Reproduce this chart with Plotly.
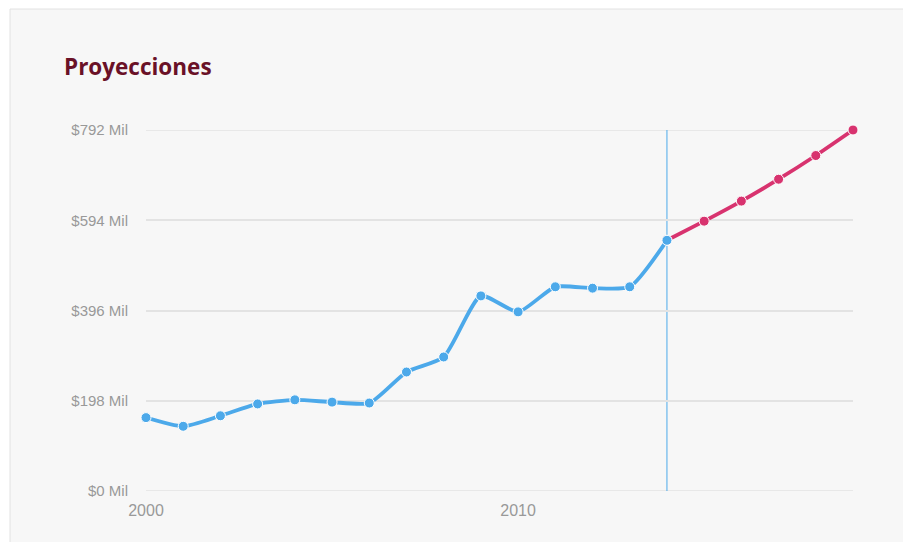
import plotly.graph_objects as go

# Historical values (millions) and projected values
years_hist = [2000, 2001, 2002, 2003, 2004, 2005, 2006, 2007, 2008, 2009,
              2010, 2011, 2012, 2013, 2014]
values_hist = [161, 142, 165, 191, 200, 195, 193, 261, 294, 428,
               393, 448, 445, 448, 550]

years_proj = [2014, 2015, 2016, 2017, 2018, 2019]
values_proj = [550, 592, 636, 684, 736, 792]

y_ticks = [0, 198, 396, 594, 792]
y_tick_labels = ["$0 Mil", "$198 Mil", "$396 Mil", "$594 Mil", "$792 Mil"]
x_ticks = [2000, 2010]
x_tick_labels = ["2000", "2010"]
split_year = 2014

W, H = 903, 542
ML, MR, MT, MB = 146, 50, 130, 51
PW, PH = W - ML - MR, H - MT - MB


def px_x(p):
    return (p - ML) / PW


def px_y(p):
    return (H - MB - p) / PH


BLUE = "#4ca9ea"
PINK = "#d8336f"
GRID = "#e3e3e3"

fig = go.Figure()

fig.add_trace(go.Scatter(
    x=years_proj, y=values_proj, mode="lines+markers",
    line=dict(color=PINK, width=3.8, shape="spline", smoothing=0.5),
    marker=dict(size=10, color=PINK, line=dict(color="white", width=1)),
    cliponaxis=False, hoverinfo="x+y", showlegend=False,
))
fig.add_trace(go.Scatter(
    x=years_hist, y=values_hist, mode="lines+markers",
    line=dict(color=BLUE, width=3.8, shape="spline", smoothing=0.6),
    marker=dict(size=10, color=BLUE, line=dict(color="white", width=1)),
    cliponaxis=False, hoverinfo="x+y", showlegend=False,
))

# Card background
fig.add_shape(type="rect", xref="paper", yref="paper", layer="below",
              x0=px_x(10), x1=px_x(W + 20), y0=px_y(H + 20), y1=px_y(9),
              fillcolor="#f7f7f7", line=dict(color="#e2e2e2", width=1))

# Gridlines on the axis edges (the axis grid skips the range limits)
for v in (y_ticks[0], y_ticks[-1]):
    fig.add_shape(type="line", xref="paper", yref="y", layer="below",
                  x0=0, x1=1, y0=v, y1=v, line=dict(color=GRID, width=1.5))

# Marker for the start of the projection
fig.add_shape(type="line", xref="x", yref="paper",
              x0=split_year, x1=split_year, y0=0, y1=1,
              line=dict(color=BLUE, width=1), layer="below")

fig.add_annotation(text="<b>Proyecciones</b>", xref="paper", yref="paper",
                   x=px_x(62), y=px_y(67), xanchor="left", yanchor="middle",
                   showarrow=False,
                   font=dict(family="Open Sans", size=22.5, color="#6a1127"))

fig.update_layout(
    width=W, height=H,
    margin=dict(l=ML, r=MR, t=MT, b=MB),
    paper_bgcolor="white", plot_bgcolor="rgba(0,0,0,0)",
    font=dict(family="Liberation Sans, Arial", size=15, color="#999999"),
    xaxis=dict(range=[2000, 2019], tickvals=x_ticks, ticktext=x_tick_labels,
               showgrid=False, zeroline=False, showline=False,
               ticks="outside", ticklen=5, tickcolor="rgba(0,0,0,0)",
               tickfont=dict(size=16, color="#999999")),
    yaxis=dict(range=[0, 792], tickvals=y_ticks, ticktext=y_tick_labels,
               showgrid=True, gridcolor=GRID, gridwidth=1.5,
               zeroline=False, showline=False,
               ticks="outside", ticklen=14, tickcolor="rgba(0,0,0,0)",
               tickfont=dict(size=15, color="#999999")),
    hovermode="closest",
)

fig.write_html("out.html")
